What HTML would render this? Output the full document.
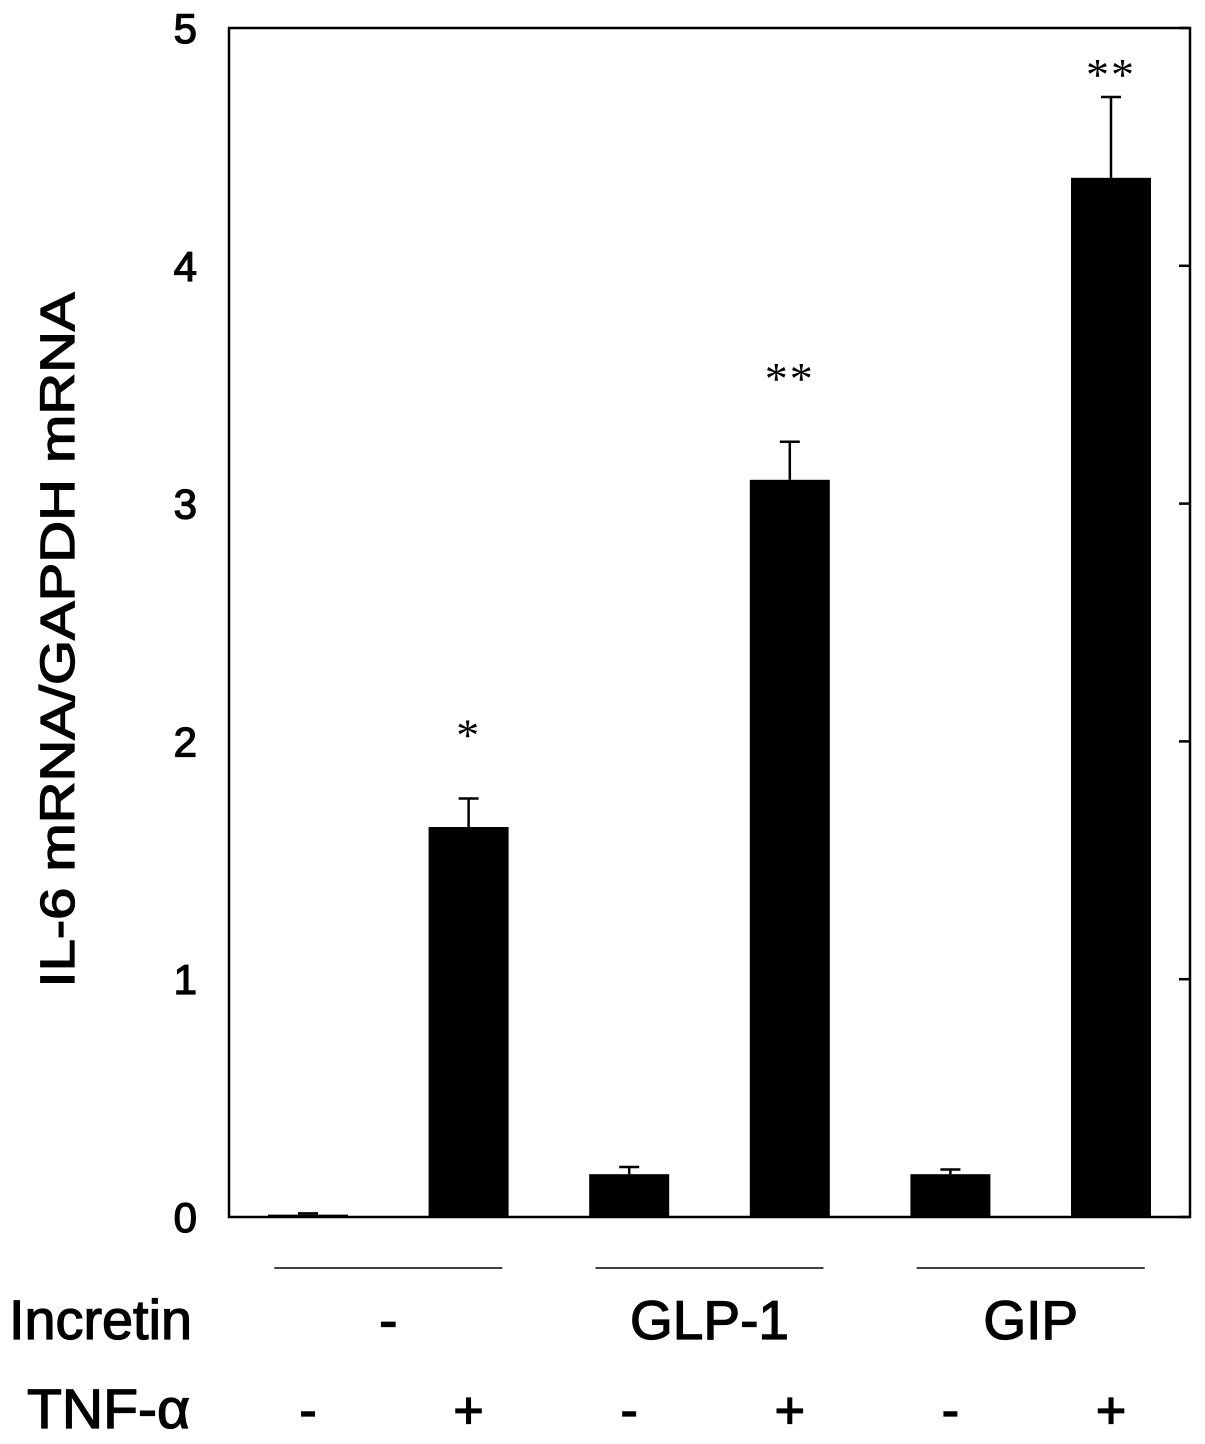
<!DOCTYPE html>
<html><head><meta charset="utf-8"><style>
html,body{margin:0;padding:0;background:#fff;}
svg{display:block;font-family:"Liberation Sans",Arial,sans-serif;}
.semi{stroke:#000;stroke-width:1.3px;}
</style></head><body>
<svg id="chart" width="1205" height="1444" viewBox="0 0 1205 1444"></svg>
<script>
const categories = ["ctrl-", "ctrl+", "glp1-", "glp1+", "gip-", "gip+"];
const values = [0.01, 1.64, 0.18, 3.10, 0.18, 4.37];
const errors = [0.005, 0.12, 0.03, 0.16, 0.02, 0.34];
const signif = ["", "*", "", "**", "", "**"];
const yTicks = [0, 1, 2, 3, 4, 5];
const tnfLabels = ["-", "+", "-", "+", "-", "+"];
const groupLabels = ["-", "GLP-1", "GIP"];

const NS = "http://www.w3.org/2000/svg";
const svg = document.getElementById("chart");
const L = 229, R = 1190, T = 28, B = 1217;
const yMax = 5;
const y = v => B - (v / yMax) * (B - T);
const x0 = 308, step = 160.6, bw = 80;
const xc = i => x0 + i * step;
function mk(tag, attrs, parent) {
  const e = document.createElementNS(NS, tag);
  for (const k in attrs) e.setAttribute(k, attrs[k]);
  (parent || svg).appendChild(e);
  return e;
}
const frame = mk("rect", {x: L, y: T, width: R - L, height: B - T, fill: "none", stroke: "#000", "stroke-width": 2.5});


yTicks.forEach(t => {
  const yy = y(t);
  const tl = mk("line", {x1: R - 11, x2: R, y1: yy, y2: yy, stroke: "#000", "stroke-width": 2.5});
  
  
  const lb = mk("text", {x: 197, y: yy + 15, "text-anchor": "end", "font-size": 42, "class": "semi"});
  lb.textContent = t;
  
  
});
values.forEach((v, i) => {
  const b = mk("rect", {x: xc(i) - bw / 2, y: y(v), width: bw, height: B - y(v), fill: "#000"});
  
  
  const top = y(v + errors[i]);
  const e1 = mk("line", {x1: xc(i), x2: xc(i), y1: y(v), y2: top, stroke: "#000", "stroke-width": 2.5});
  
  
  const e2 = mk("line", {x1: xc(i) - 10, x2: xc(i) + 10, y1: top, y2: top, stroke: "#000", "stroke-width": 2.5});
  
  
  if (signif[i]) {
    const s = mk("text", {x: xc(i), y: Math.max(top - 48, 90), "text-anchor": "middle", "font-size": 46, "letter-spacing": 2, "font-family": "Liberation Serif, serif"});
    s.textContent = signif[i];
    
    
  }
  const tn = mk("text", {x: xc(i), y: 1428, "text-anchor": "middle", "font-size": 52, "class": "semi"});
  tn.textContent = tnfLabels[i];
  
  
});
groupLabels.forEach((g, j) => {
  const cx = (xc(2 * j) + xc(2 * j + 1)) / 2;
  const gl = mk("line", {x1: cx - 114, x2: cx + 114, y1: 1268, y2: 1268, stroke: "#000", "stroke-width": 1.5});
  
  
  const gt = mk("text", {x: cx, y: 1339, "text-anchor": "middle", "font-size": 55, "class": "semi"});
  gt.textContent = g;
  
  
});
const inc = mk("text", {x: 9, y: 1339, "font-size": 56, "class": "semi", textLength: 183, lengthAdjust: "spacingAndGlyphs"});
inc.textContent = "Incretin";


const tnf = mk("text", {x: 27, y: 1428, "font-size": 56, "class": "semi", textLength: 163, lengthAdjust: "spacingAndGlyphs"});
tnf.textContent = "TNF-α";


const yt = mk("text", {x: 0, y: 0, "text-anchor": "middle", "font-size": 48, "class": "semi", textLength: 695, lengthAdjust: "spacingAndGlyphs", transform: "translate(74,640) rotate(-90)"});
yt.textContent = "IL-6 mRNA/GAPDH mRNA";


</script>
</body></html>
